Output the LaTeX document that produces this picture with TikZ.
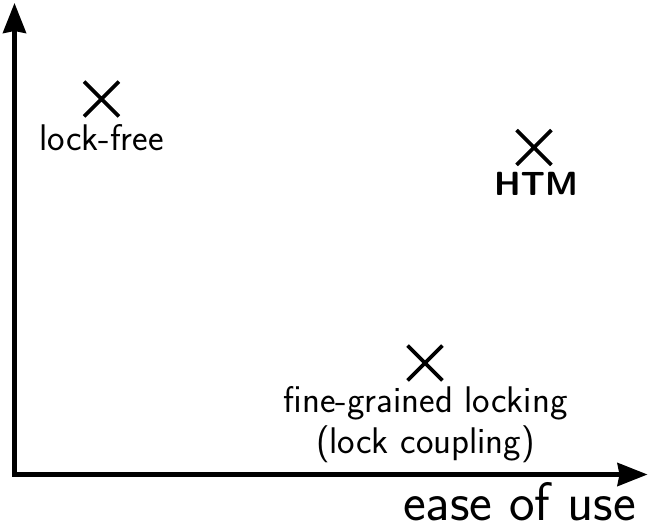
\documentclass[tikz,border=0pt]{standalone}
\usetikzlibrary{arrows.meta,shapes.misc}
\begin{document}
\begin{tikzpicture}[x=1pt,y=-1pt,
  axis/.style={line width=4.3pt,{Stealth[length=30pt,width=23pt,inset=2pt]}-{Stealth[length=30pt,width=23pt,inset=2pt]}},
  mark x/.style={cross out,draw,line width=3.8pt,minimum size=31pt,inner sep=0pt},
  lbl/.style={anchor=base,inner sep=0pt,font=\sffamily\fontsize{37.1}{44}\selectfont},
  biglbl/.style={anchor=base east,inner sep=0pt,font=\sffamily\fontsize{54.2}{62}\selectfont}]
\useasboundingbox (0,0) rectangle (649,525);
\coordinate (O) at (14.5,474.5);
\coordinate (ytip) at (14.5,3);
\coordinate (xtip) at (647.5,474.5);
\draw[axis] (ytip) -- (O) -- (xtip);
\node[biglbl] (xlabel) at (636,520) {ease of use};
\node[mark x] (lf) at (101.5,99) {};
\node[lbl] (lft) at (101.5,150) {lock-free};
\node[mark x] (htm) at (534,147.5) {};
\node[lbl,font=\sffamily\bfseries\fontsize{33.5}{40}\selectfont] (htmt) at (536,195) {HTM};
\node[mark x] (fg) at (425,363) {};
\node[lbl] (fgt1) at (425.5,412.7) {fine-grained locking};
\node[lbl] (fgt2) at (425.5,453) {(lock coupling)};
\end{tikzpicture}
\end{document}
